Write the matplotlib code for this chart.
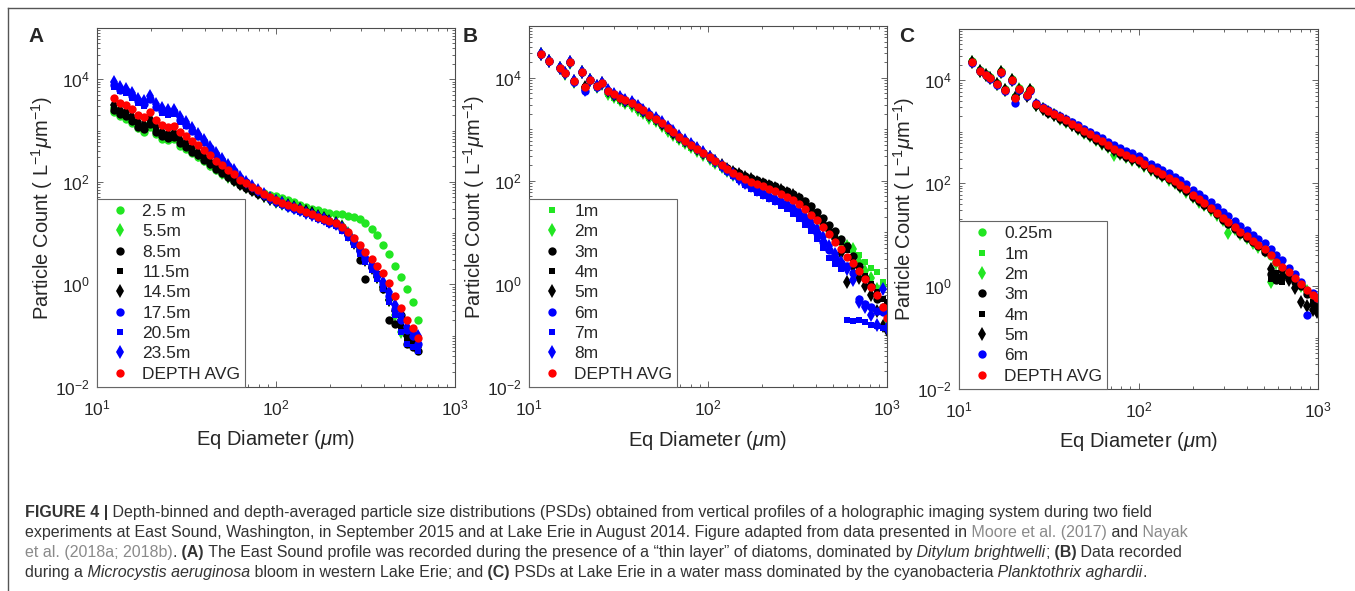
import numpy as np
import matplotlib
matplotlib.use("Agg")
import matplotlib.pyplot as plt
from matplotlib.lines import Line2D
from matplotlib.ticker import FixedLocator, LogLocator, NullFormatter, LogFormatterSciNotation

plt.rcParams['font.family'] = ['Liberation Sans', 'DejaVu Sans']
plt.rcParams['mathtext.fontset'] = 'custom'
plt.rcParams['mathtext.rm'] = 'Liberation Sans'
plt.rcParams['mathtext.it'] = 'Liberation Sans:italic'
plt.rcParams['mathtext.default'] = 'regular'

# ---- panel A: East Sound (diameter in um, counts in L^-1 um^-1)
a_diam = [12.5, 13.5, 14.6, 15.7, 17.0, 18.4, 19.8, 21.4, 23.1, 25.0, 27.0, 29.1, 31.5, 34.0, 36.7, 39.6,
          42.8, 46.2, 49.9, 53.9, 58.2, 62.9, 67.9, 73.3, 79.2, 85.5, 92.4, 99.7, 108, 116, 126, 136, 147,
          158, 171, 185, 199, 215, 233, 251, 271, 293, 316, 342, 369, 398, 430, 465, 502, 542, 585, 622]
a_25m = [2300, 1900, 1700, 1400, 1100, 950, 1200, 850, 700, 650, 680, 510, 440, 360, 300, 250, 205, 170,
         145, 125, 105, 90, 80, 72, 66, 60, 56, 52, 48, 44, 40, 36, 33, 30, 28, 26, 25, 24, 23.5, 22, 21, 19,
         16, 12, 9, 6, 4, 2.3, 1.4, 0.8, 0.45, 0.2]
a_55m = [2700, 2200, 2000, 1650, 1250, 1100, 1400, 1000, 820, 750, 790, 590, 500, 410, 340, 280, 225, 185,
         152, 127, 107, 90, 78, 68, 60, 52, 46, 41, 37, 34, 31, 28.5, 26, 24, 21.5, 19.5, 17.5, 16, 13.5, 10,
         7, 4.8, 3.2, 2.2, 1.4, 0.9, 0.5, 0.25, 0.12, 0.1, 0.09, 0.07]
a_85m = [2500, 2100, 1900, 1550, 1200, 1050, 1350, 950, 780, 720, 750, 560, 480, 390, 330, 270, 220, 180,
         150, 125, 105, 88, 77, 67, 59, 52, 46, 41, 37, 34, 31, 28, 26, 24, 21, 19.5, 17.5, 16, 13, 9.5, 6.5,
         3, 1.3, 2.2, 1.6, 0.8, 0.2, 0.17, 0.25, 0.07, 0.06, 0.05]
a_115m = [2800, 2300, 2100, 1700, 1300, 1150, 1500, 1050, 860, 790, 820, 610, 520, 420, 350, 285, 230, 188,
          155, 128, 107, 90, 78, 68, 60, 52, 46, 41, 37, 34, 31, 28, 26, 24, 21, 19, 17, 15.5, 12.5, 9.5, 7,
          5, 3.4, 2.4, 1.5, 1.0, 0.55, 0.3, 0.15, 0.09, 0.07, 0.06]
a_145m = [3100, 2500, 2300, 1850, 1450, 1300, 1650, 1150, 940, 860, 900, 660, 560, 450, 370, 300, 240, 195,
          160, 132, 110, 92, 80, 70, 61, 53, 47, 42, 38, 35, 32, 29, 26.5, 24.5, 21.5, 19.5, 17.5, 16, 13, 9,
          6.5, 4.5, 3, 2.1, 1.4, 0.9, 0.5, 0.3, 0.2, 0.1, 0.08, 0.06]
a_175m = [7600, 6300, 5800, 4700, 3700, 3300, 4200, 2900, 2400, 2200, 2300, 1600, 1300, 1000, 790, 600, 450,
          340, 260, 205, 165, 120, 98, 80, 67, 56, 48, 42, 37, 33, 30, 27, 24.5, 22.5, 20, 18, 16, 14.5, 12,
          9, 6.5, 4.5, 3.1, 2.2, 1.5, 1.0, 0.6, 0.33, 0.2, 0.13, 0.1, 0.07]
a_205m = [7000, 5800, 5300, 4300, 3400, 3000, 3900, 2700, 2200, 2000, 2100, 1500, 1250, 950, 750, 580, 430,
          330, 250, 200, 160, 118, 96, 78, 65, 55, 47, 41, 36, 32, 29, 26, 23.5, 21.5, 19, 17, 15, 13.5, 11,
          8.2, 5.8, 4, 2.7, 1.9, 1.3, 0.8, 0.45, 0.25, 0.12, 0.07, 0.06, 0.05]
a_235m = [8800, 7200, 6600, 5300, 4200, 3700, 4700, 3300, 2700, 2500, 2550, 1800, 1450, 1100, 860, 650, 480,
          360, 275, 215, 170, 125, 100, 82, 69, 58, 49, 43, 38, 34, 31, 28, 25, 23, 20.5, 18.5, 16.5, 15,
          12.5, 9.5, 7, 5, 3.4, 2.4, 1.6, 1.1, 0.7, 0.4, 0.25, 0.15, 0.12, 0.1]
a_avg = [4300, 3500, 3200, 2600, 2000, 1800, 2300, 1600, 1300, 1200, 1250, 930, 790, 630, 520, 420, 330, 260,
         210, 170, 140, 110, 93, 79, 68, 58, 50, 44, 39, 35, 32, 29, 26, 24, 21, 19, 17, 15.5, 13, 10.5, 7.9,
         5.9, 4.3, 3.2, 2.3, 1.7, 1.05, 0.6, 0.35, 0.2, 0.14, 0.09]

# ---- panel B: Lake Erie, Microcystis bloom
b_diam = [11.6, 12.9, 14.9, 15.9, 16.9, 17.8, 19.7, 20.6, 21.9, 23.9, 25.5,
          27.5, 29.7, 32.1, 34.6, 37.4, 40.4, 43.6, 47.1, 50.9, 55, 59.4, 64.1, 69.2, 74.8, 80.8, 87.2, 94.2,
          102, 110, 119, 128, 138, 149, 161, 174, 188, 203, 219, 237, 256, 276, 298, 322, 348, 376, 406, 438,
          473, 511, 552, 596, 644, 695, 751, 811, 876, 946, 1000]
b_1m = [28000, 20000, 15000, 11500, 19000, 8200, 12500, 6300, 8700, 6300, 7400,
        4800, 4100, 3500, 3100, 2750, 2300, 2000, 1650, 1400, 1130, 920, 760, 620, 520, 440, 370, 310, 260, 215,
        180, 150, 128, 114, 102, 92, 84, 77, 70, 64, 58, 52, 46, 40, 33, 26, 20, 15, 11.5, 8.5, 6.8, 5.6, 4.5,
        3.6, 2.6, 2.0, 1.7, 1.1, 0.15]
b_2m = [28500, 20500, 15200, 11800, 19500, 8300, 12700, 6400, 8900, 6500, 7600,
        4900, 4200, 3600, 3150, 2800, 2350, 2020, 1680, 1420, 1150, 940, 770, 630, 530, 445, 375, 315, 262, 218,
        182, 152, 130, 115, 102, 91, 82, 75, 68, 62, 57, 51, 45, 39, 32, 25, 19, 14, 10.5, 8, 6.5, 5.5, 4.8,
        2.6, 1.8, 1.3, 0.8, 0.9, 0.2]
b_3m = [29000, 21000, 15500, 12000, 20000, 8500, 13000, 6600, 9100, 6800, 7900,
        5400, 4600, 4000, 3550, 3150, 2650, 2250, 1870, 1580, 1280, 1040, 860, 700, 580, 495, 415, 345, 290, 242,
        205, 175, 155, 140, 125, 113, 102, 94, 86, 78, 70, 63, 56, 48, 40, 32, 25, 19, 14, 10.5, 7.5, 5.5, 3.5,
        2.2, 1.3, 0.9, 0.5, 0.35, 0.3]
b_4m = [29000, 21000, 15500, 12000, 20000, 8500, 13000, 6600, 9100, 6800, 7900,
        5450, 4650, 4050, 3580, 3180, 2680, 2270, 1880, 1590, 1290, 1045, 865, 705, 585, 498, 418, 348, 288, 240,
        202, 172, 150, 134, 120, 108, 98, 90, 82, 75, 68, 61, 54, 46, 38, 30, 23, 17, 12.5, 9, 6.5, 4.5, 3, 2,
        1.4, 1, 0.7, 0.5, 0.45]
b_5m = [29000, 21000, 15500, 12000, 20000, 8500, 13000, 6600, 9100, 6800, 7900,
        5420, 4620, 4020, 3560, 3160, 2660, 2260, 1870, 1575, 1285, 1040, 860, 702, 582, 496, 416, 346, 287, 238,
        200, 170, 148, 132, 118, 106, 96, 88, 80, 73, 66, 59, 52, 44, 36, 28, 21, 15, 11, 7.5, 4, 1.1, 2.2,
        1.3, 0.9, 0.6, 0.3, 0.15, 0.13]
b_6m = [29000, 21000, 15500, 12000, 20000, 8200, 12800, 5600, 8800, 6700, 8000,
        5600, 4800, 4200, 3700, 3300, 2800, 2380, 1960, 1650, 1340, 1080, 890, 720, 600, 505, 420, 350, 288, 236,
        192, 156, 128, 106, 88, 74, 63, 55, 48, 42, 37, 32, 27, 22, 17.5, 13, 9.5, 6.5, 4.5, 3.2, 2.5, 2.2,
        1.6, 0.5, 0.4, 0.35, 0.3, 0.28, 0.3]
b_7m = [29000, 21000, 15500, 12000, 20000, 8300, 12900, 5800, 8900, 6700, 7900,
        5500, 4750, 4150, 3650, 3250, 2750, 2340, 1930, 1620, 1320, 1065, 880, 715, 595, 500, 418, 348, 285, 232,
        188, 152, 124, 102, 84, 70, 59, 51, 44, 38, 33, 28, 23, 18.5, 14, 10.5, 7.5, 5, 3.2, 2.4, 1.9, 0.2,
        0.19, 0.2, 0.18, 0.16, 0.15, 0.14, 0.14]
b_8m = [29000, 21000, 15500, 12000, 20000, 8400, 13000, 5700, 9000, 6800, 8000,
        5650, 4850, 4250, 3750, 3350, 2830, 2400, 1980, 1670, 1360, 1100, 905, 735, 610, 515, 428, 356, 292, 240,
        196, 160, 132, 110, 92, 78, 67, 58, 51, 45, 40, 35, 30, 25, 20, 15.5, 11.5, 8, 5.5, 3.8, 2.6, 1.9,
        1.2, 0.45, 0.35, 0.25, 0.16, 0.8, 0.14]
b_avg = [29000, 21000, 15500, 12000, 20000, 8500, 13000, 6500, 9100, 6800, 7900,
         5500, 4700, 4100, 3600, 3200, 2700, 2300, 1900, 1600, 1300, 1050, 870, 710, 590, 500, 420, 350, 290,
         240, 200, 166, 140, 123, 107, 95, 85, 78, 69, 62, 55, 49, 42, 35, 28, 22, 17, 12.6, 9.3, 6.6, 4.7,
         3.3, 2.5, 1.8, 1.26, 0.85, 0.6, 0.35, 0.22]

# ---- panel C: Lake Erie, Planktothrix water mass
c_diam = [11.8, 13.1, 14.2, 14.9, 16.2, 17.1, 18.1, 19.7, 20.5, 21.6, 23.8, 24.8,
          27, 29.2, 31.5, 34, 36.7, 39.7, 42.8, 46.3, 50, 54, 58.3, 63, 68, 73.4, 79.3, 85.7, 92.5, 100, 108,
          117, 126, 136, 147, 159, 171, 185, 200, 216, 233, 252, 272, 294, 317, 343, 370, 400, 432, 466, 504,
          544, 587, 634, 685, 740, 799, 863, 932, 990]
c_025m = [24000, 16000, 13500, 11500, 9000, 15000, 6800, 10500, 4800, 7000, 5300, 6700,
          3400, 2850, 2450, 2150, 1850, 1620, 1380, 1170, 1000, 860, 720, 610, 520, 440, 380, 335, 298, 265,
          228, 190, 165, 143, 122, 104, 88, 72, 55, 46, 39, 31, 25, 20, 16.5, 13.3, 10.6, 8.8, 7.2, 6, 5, 3.8,
          2.9, 2.3, 1.8, 1.35, 1.05, 0.82, 0.65, 0.55]
c_1m = [23500, 15800, 13200, 11200, 8800, 14700, 6600, 10200, 4700, 6800, 5200, 6600,
        3450, 2900, 2500, 2200, 1900, 1660, 1410, 1200, 1020, 880, 740, 630, 535, 455, 392, 344, 305, 272, 233,
        195, 169, 147, 125, 107, 90, 74, 56, 47, 40, 32, 26, 20.5, 17, 13.6, 10.9, 9, 7.4, 6.1, 5.1, 3.9, 2.9,
        2.35, 1.8, 1.4, 1.05, 0.82, 0.66, 0.56]
c_2m = [23000, 15500, 13000, 11000, 8600, 14400, 6500, 10000, 4600, 6700, 5100, 6500,
        3350, 2800, 2400, 2100, 1800, 1580, 1340, 1140, 970, 840, 700, 590, 500, 360, 370, 325, 290, 258, 220,
        184, 160, 138, 118, 100, 85, 69, 53, 44, 37, 30, 24, 19, 11, 12.8, 10.2, 8.5, 7, 5.8, 4.8, 1.2, 2.8,
        2.2, 1.7, 1.3, 1.0, 0.8, 0.62, 0.52]
c_3m = [23000, 15500, 13000, 11000, 8600, 14400, 6500, 10000, 4500, 6600, 5000, 6400,
        3300, 2750, 2350, 2080, 1800, 1570, 1340, 1140, 970, 840, 700, 600, 510, 435, 375, 330, 292, 260, 222,
        186, 162, 140, 120, 102, 86, 70, 54, 45, 38, 31, 25, 19.5, 16, 13, 10.5, 8.7, 7.1, 5.9, 4.6, 1.7, 1.3,
        1.6, 1.5, 1.2, 1.0, 0.7, 0.45, 0.4]
c_4m = [23000, 15500, 13000, 11000, 8600, 14400, 6500, 10000, 4500, 6600, 5000, 6400,
        3350, 2800, 2400, 2120, 1830, 1600, 1360, 1160, 985, 855, 712, 610, 518, 442, 381, 335, 296, 264, 226,
        189, 164, 142, 122, 104, 88, 72, 55, 46, 39, 32, 26, 20, 16.5, 13.5, 11, 9.2, 7.5, 6.2, 4.9, 1.4, 1.8,
        1.2, 1.5, 1.3, 1.05, 0.75, 0.5, 0.38]
c_5m = [23000, 15500, 13000, 11000, 8600, 14400, 6500, 10000, 4500, 6600, 5000, 6400,
        3380, 2830, 2420, 2140, 1850, 1620, 1380, 1170, 995, 865, 720, 618, 525, 448, 386, 340, 300, 267, 229,
        192, 166, 144, 124, 106, 90, 74, 57, 48, 40, 33, 27, 21, 17.5, 14.5, 12, 9.8, 8, 6.5, 5.2, 2.2, 1.6, 2,
        1.3, 0.9, 0.49, 0.42, 0.35, 0.32]
c_6m = [22000, 15000, 12700, 10500, 8200, 14000, 6200, 9600, 3700, 6400, 5000, 6300,
        3600, 3050, 2650, 2350, 2050, 1800, 1560, 1330, 1150, 1010, 860, 745, 640, 560, 490, 430, 380, 335, 288,
        240, 210, 182, 156, 135, 115, 95, 74, 62, 52, 43, 35, 28, 23, 18.5, 15, 12.3, 10, 8.2, 6.8, 5.2, 4,
        3.2, 2.3, 1.7, 1.2, 0.27, 0.75, 0.6]
c_avg = [23000, 15500, 13000, 11000, 8700, 14500, 6500, 10000, 4600, 6700, 5100, 6500,
         3500, 2950, 2550, 2250, 1950, 1700, 1450, 1230, 1050, 910, 760, 650, 550, 470, 405, 355, 315, 280, 240,
         200, 174, 151, 129, 110, 93, 76, 58, 49, 41, 33, 27, 21, 17.4, 14, 11.2, 9.3, 7.6, 6.3, 5.2, 4.0, 3.0,
         2.4, 1.86, 1.45, 1.1, 0.85, 0.68, 0.58]

x_major = [10, 100, 1000]
y_major = [1e-2, 1, 1e2, 1e4]

GREEN = '#22e622'
BLACK = '#000000'
BLUE = '#0000ff'
RED = '#ff0000'
MSIZE = {'o': 6.0, 's': 4.8, 'd': 7.2}

panels = [
    ('A', a_diam, [('2.5 m', a_25m, GREEN, 'o'), ('5.5m', a_55m, GREEN, 'd'), ('8.5m', a_85m, BLACK, 'o'),
                   ('11.5m', a_115m, BLACK, 's'), ('14.5m', a_145m, BLACK, 'd'), ('17.5m', a_175m, BLUE, 'o'),
                   ('20.5m', a_205m, BLUE, 's'), ('23.5m', a_235m, BLUE, 'd'), ('DEPTH AVG', a_avg, RED, 'o')],
     (97, 28, 455, 387), 28),
    ('B', b_diam, [('1m', b_1m, GREEN, 's'), ('2m', b_2m, GREEN, 'd'), ('3m', b_3m, BLACK, 'o'),
                   ('4m', b_4m, BLACK, 's'), ('5m', b_5m, BLACK, 'd'), ('6m', b_6m, BLUE, 'o'),
                   ('7m', b_7m, BLUE, 's'), ('8m', b_8m, BLUE, 'd'), ('DEPTH AVG', b_avg, RED, 'o')],
     (529, 26, 887, 387), 463),
    ('C', c_diam, [('0.25m', c_025m, GREEN, 'o'), ('1m', c_1m, GREEN, 's'), ('2m', c_2m, GREEN, 'd'),
                   ('3m', c_3m, BLACK, 'o'), ('4m', c_4m, BLACK, 's'), ('5m', c_5m, BLACK, 'd'),
                   ('6m', c_6m, BLUE, 'o'), ('DEPTH AVG', c_avg, RED, 'o')],
     (959, 29, 1318, 389), 899),
]

W, H = 1355, 591
fig = plt.figure(figsize=(W / 100, H / 100), dpi=100, facecolor='white')

AX_COL = '#4d4d4d'
TXT_COL = '#262626'

for letter, diam, series, (l, t, r, b), letter_x in panels:
    ax = fig.add_axes([l / W, 1 - b / H, (r - l) / W, (b - t) / H])
    for name, vals, col, mk in series:
        ax.plot(diam, vals, ls='none', marker=mk, ms=MSIZE[mk], mew=0, color=col, label=name)
    ax.set_xscale('log')
    ax.set_yscale('log')
    ax.set_xlim(10, 1000)
    ax.set_ylim(1e-2, 1e5)
    ax.xaxis.set_major_locator(FixedLocator(x_major))
    ax.yaxis.set_major_locator(FixedLocator(y_major))
    for axis in (ax.xaxis, ax.yaxis):
        axis.set_major_formatter(LogFormatterSciNotation())
        axis.set_minor_locator(LogLocator(base=10, subs=np.arange(1, 10), numticks=100))
        axis.set_minor_formatter(NullFormatter())
    ax.tick_params(which='both', direction='in', top=True, right=True, color=AX_COL,
                   labelcolor=TXT_COL, labelsize=12.5, width=0.6)
    ax.tick_params(which='major', length=4.5)
    ax.tick_params(which='minor', length=2.2)
    ax.tick_params(axis='x', pad=8)
    ax.tick_params(axis='y', pad=5)
    for sp in ax.spines.values():
        sp.set_color(AX_COL)
        sp.set_linewidth(0.8)
    ax.set_xlabel(r'Eq Diameter ($\mathit{\mu}$m)', fontsize=14.5, color=TXT_COL)
    ax.set_ylabel(r'Particle Count ( L$^{-1}\mathit{\mu}$m$^{-1}$)', fontsize=14.5, color=TXT_COL)
    ax.xaxis.set_label_coords(0.5, -0.115)
    ax.yaxis.set_label_coords(-0.118, 0.5)
    leg = ax.legend(loc='lower left', bbox_to_anchor=(0, 0), borderaxespad=0, fontsize=12.5,
                    fancybox=False, framealpha=1, edgecolor='#666666', labelspacing=0.3,
                    borderpad=0.3, handlelength=2.0, handletextpad=0.3, numpoints=1)
    leg.get_frame().set_linewidth(0.8)
    for txt in leg.get_texts():
        txt.set_color(TXT_COL)
    fig.text(letter_x / W, 1 - 37 / H, letter, fontsize=15, fontweight='bold', color=TXT_COL,
             ha='left', va='center')

# frame of the figure page (top and left rules)
fig.add_artist(Line2D([8 / W, 1], [1 - 8 / H, 1 - 8 / H], transform=fig.transFigure, color='#555555', lw=1))
fig.add_artist(Line2D([8 / W, 8 / W], [0, 1 - 8 / H], transform=fig.transFigure, color='#555555', lw=1))

# caption, drawn piece by piece so bold / italic / grey runs follow each other
CAP_FS = 11.5
CAP_COL = '#333333'
REF_COL = '#8a8a8a'
caption_lines = [
    [('FIGURE 4 |', 'b'), (' Depth-binned and depth-averaged particle size distributions (PSDs) obtained from '
                           'vertical profiles of a holographic imaging system during two field', 'n')],
    [('experiments at East Sound, Washington, in September 2015 and at Lake Erie in August 2014. Figure adapted '
      'from data presented in', 'n'), (' Moore et al. (2017)', 'g'), (' and', 'n'), (' Nayak', 'g')],
    [('et al. (2018a; 2018b)', 'g'), ('.', 'n'), (' (A)', 'b'),
     (' The East Sound profile was recorded during the presence of a \u201cthin layer\u201d of diatoms, '
      'dominated by', 'n'), (' Ditylum brightwelli', 'i'), (';', 'n'), (' (B)', 'b'), (' Data recorded', 'n')],
    [('during a', 'n'), (' Microcystis aeruginosa', 'i'), (' bloom in western Lake Erie; and', 'n'),
     (' (C)', 'b'), (' PSDs at Lake Erie in a water mass dominated by the cyanobacteria', 'n'),
     (' Planktothrix aghardii', 'i'), ('.', 'n')],
]
line_y = [517, 537, 557, 577]

renderer = fig.canvas.get_renderer()
for pieces, yp in zip(caption_lines, line_y):
    x = 25
    for text, kind in pieces:
        t = fig.text(x / W, 1 - yp / H, text, fontsize=CAP_FS, ha='left', va='baseline',
                     color=REF_COL if kind == 'g' else CAP_COL,
                     fontweight='bold' if kind == 'b' else 'normal',
                     fontstyle='italic' if kind == 'i' else 'normal')
        x = t.get_window_extent(renderer).x1

fig.savefig('out.png', dpi=100, facecolor='white')
